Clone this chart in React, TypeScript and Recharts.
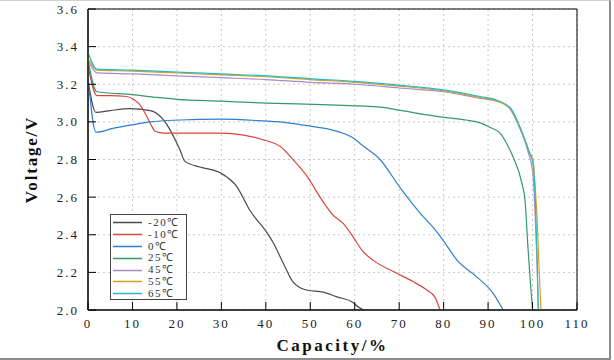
import {
  CartesianGrid,
  Label,
  Legend,
  Line,
  LineChart,
  ReferenceArea,
  XAxis,
  YAxis,
} from 'recharts'

// capacity (%) and voltage (V)
const capM20 = [0, 1.8, 5, 9.5, 14, 17, 18.4, 20.7, 21.8, 25.2, 29.7, 33.5, 36.4, 40.3, 41.6, 43.9, 46.1, 49.3, 52.9, 56, 59.6, 60.8, 62]
const voltM20 = [3.22, 3.05, 3.06, 3.07, 3.06, 3.01, 2.96, 2.85, 2.79, 2.76, 2.73, 2.655, 2.53, 2.41, 2.36, 2.25, 2.15, 2.105, 2.095, 2.07, 2.04, 2.016, 2.0]

const capM10 = [0, 2, 5, 8.7, 10.2, 11.7, 13.2, 14.4, 15.1, 17, 25, 29.7, 35, 39.4, 43.2, 46.1, 49.3, 52.2, 55.1, 57.4, 59.6, 61.9, 64.1, 69.5, 73.2, 76.3, 78, 79.2]
const voltM10 = [3.3, 3.14, 3.14, 3.135, 3.12, 3.09, 3.03, 2.975, 2.95, 2.94, 2.94, 2.94, 2.93, 2.905, 2.87, 2.8, 2.71, 2.6, 2.505, 2.46, 2.39, 2.31, 2.265, 2.195, 2.15, 2.105, 2.07, 2.0]

const cap0 = [0, 1.8, 5.6, 10.2, 14, 20.7, 29.7, 39.4, 45, 50.6, 54.4, 59.6, 62, 65.7, 70.2, 74.7, 77.6, 79.9, 83, 87.5, 91.1, 93.4]
const volt0 = [3.24, 2.945, 2.965, 2.985, 3.0, 3.01, 3.015, 3.005, 2.995, 2.975, 2.96, 2.915, 2.87, 2.8, 2.65, 2.515, 2.44, 2.37, 2.265, 2.175, 2.09, 2.0]

const cap25 = [0, 2, 10, 15.5, 20, 30, 40, 54.4, 65.7, 69.5, 79.2, 85, 88.2, 90.5, 92.7, 94.3, 95.6, 97.6, 98.3, 99, 99.6, 100]
const volt25 = [3.33, 3.16, 3.145, 3.13, 3.12, 3.11, 3.1, 3.09, 3.078, 3.064, 3.027, 3.01, 2.995, 2.97, 2.94, 2.88, 2.815, 2.675, 2.585, 2.32, 2.12, 2.0]

const cap45 = [0, 2, 10, 20, 30, 40, 50, 60, 70, 80, 88.2, 92, 94.5, 96.5, 99, 100, 100.6, 101, 101.3]
const volt45 = [3.33, 3.26, 3.255, 3.245, 3.235, 3.225, 3.21, 3.2, 3.18, 3.16, 3.125, 3.11, 3.08, 3.0, 2.84, 2.74, 2.5, 2.25, 2.0]

const cap55 = [0, 2, 10, 20, 30, 40, 50, 60, 70, 80, 88.2, 92, 95, 97.2, 99.4, 100.1, 100.6, 101.1, 101.5, 101.9]
const volt55 = [3.34, 3.275, 3.27, 3.26, 3.25, 3.24, 3.225, 3.21, 3.19, 3.165, 3.13, 3.11, 3.07, 2.97, 2.835, 2.8, 2.65, 2.45, 2.2, 2.0]

const cap65 = [0, 2, 10, 20, 30, 40, 50, 60, 70, 80, 88.2, 92, 95, 97.2, 99.4, 100.1, 100.6, 101.0, 101.3]
const volt65 = [3.37, 3.28, 3.275, 3.265, 3.255, 3.245, 3.23, 3.215, 3.195, 3.17, 3.135, 3.115, 3.075, 2.97, 2.83, 2.78, 2.6, 2.3, 2.0]

const xTicks = [0, 10, 20, 30, 40, 50, 60, 70, 80, 90, 100, 110]
const yTicks = [2.0, 2.2, 2.4, 2.6, 2.8, 3.0, 3.2, 3.4, 3.6]

const zip = (c: number[], v: number[]) => c.map((x, i) => ({ c: x, v: v[i] }))

const SERIES = [
  { key: 'm20', label: '-20℃', color: '#4a4a4a', data: zip(capM20, voltM20) },
  { key: 'm10', label: '-10℃', color: '#d9473f', data: zip(capM10, voltM10) },
  { key: 'p0', label: '0℃', color: '#2f7fd1', data: zip(cap0, volt0) },
  { key: 'p25', label: '25℃', color: '#33996a', data: zip(cap25, volt25) },
  { key: 'p45', label: '45℃', color: '#a98bc9', data: zip(cap45, volt45) },
  { key: 'p55', label: '55℃', color: '#d9a21c', data: zip(cap55, volt55) },
  { key: 'p65', label: '65℃', color: '#27b9c6', data: zip(cap65, volt65) },
]

const tickFont = { fontFamily: '"Liberation Serif", serif', fontSize: 13, fill: '#222', letterSpacing: 2 }

function renderLegend() {
  return (
    <div
      style={{
        border: '1px solid #444',
        background: '#fff',
        width: 77,
        height: 86,
        boxSizing: 'border-box',
        padding: '2px 0 0 2px',
        fontFamily: '"Liberation Serif", serif',
        fontSize: 11,
        letterSpacing: 1.5,
        color: '#333',
      }}
    >
      {SERIES.map((s) => (
        <div key={s.key} style={{ display: 'flex', alignItems: 'center', height: 11.8, lineHeight: '11.8px' }}>
          <svg width={35} height={11}>
            <line x1={0} x2={29} y1={5.5} y2={5.5} stroke={s.color} strokeWidth={1.5} />
          </svg>
          <span>{s.label}</span>
        </div>
      ))}
    </div>
  )
}

export default function App() {
  return (
    <div style={{ position: 'absolute', left: 0, top: 0, width: 614, height: 360, background: '#fff' }}>
      <LineChart width={614} height={360} margin={{ top: 9, right: 37, bottom: 0, left: 0 }}>
        <CartesianGrid stroke="#c8c8c8" strokeDasharray="2 3" />
        <XAxis
          dataKey="c"
          type="number"
          domain={[0, 110]}
          ticks={xTicks}
          allowDuplicatedCategory={false}
          height={50}
          stroke="#000"
          tickSize={-8}
          tickMargin={17}
          tick={tickFont}
          tickLine={{ stroke: '#000' }}
        >
          <Label
            value="Capacity/%"
            position="insideBottom"
            offset={9}
            style={{ fontFamily: '"Liberation Serif", serif', fontSize: 17, fontWeight: 'bold', letterSpacing: 2.5, fill: '#111' }}
          />
        </XAxis>
        <YAxis
          dataKey="v"
          type="number"
          domain={[2, 3.6]}
          ticks={yTicks}
          width={88}
          stroke="#000"
          tickSize={-8}
          tickMargin={17}
          tick={tickFont}
          tickLine={{ stroke: '#000' }}
          tickFormatter={(v: number) => v.toFixed(1)}
        >
          <Label
            content={(props: any) => {
              const vb = props.viewBox || { x: 0, y: 9, height: 301 }
              return (
                <text
                  x={vb.x + 31}
                  y={vb.y + vb.height / 2}
                  transform={`rotate(-90, ${vb.x + 31}, ${vb.y + vb.height / 2})`}
                  textAnchor="middle"
                  dominantBaseline="central"
                  style={{ fontFamily: '"Liberation Serif", serif', fontSize: 17, fontWeight: 'bold', letterSpacing: 1.8, fill: '#111' }}
                >
                  Voltage/V
                </text>
              )
            }}
          />
        </YAxis>
        <ReferenceArea x1={0} x2={110} y1={2} y2={3.6} fill="none" stroke="#000" strokeWidth={1} />
        {SERIES.map((s) => (
          <Line
            key={s.key}
            data={s.data}
            dataKey="v"
            name={s.label}
            type="monotone"
            stroke={s.color}
            strokeWidth={1.2}
            dot={false}
            activeDot={false}
            isAnimationActive={false}
          />
        ))}
        <Legend
          layout="vertical"
          align="center"
          verticalAlign="middle"
          content={renderLegend}
          wrapperStyle={{ left: 110, top: 214, width: 77, height: 86 }}
        />
      </LineChart>
      <div
        style={{
          position: 'absolute',
          left: 0,
          top: 0,
          width: 611,
          height: 360,
          boxSizing: 'border-box',
          borderTop: '1px solid #d0d0d0',
          borderRight: '2px solid #8c8c8c',
          borderBottom: '2px solid #8c8c8c',
          pointerEvents: 'none',
        }}
      />
    </div>
  )
}
